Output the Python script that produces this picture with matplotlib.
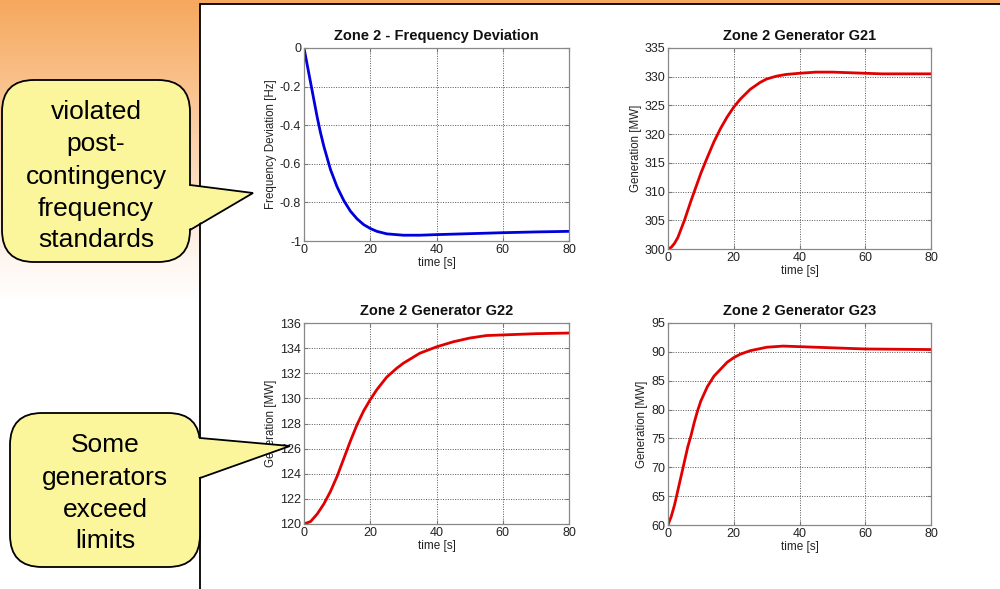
import matplotlib
matplotlib.use('Agg')
import matplotlib.pyplot as plt
import matplotlib.patches as patches
import numpy as np

plt.rcParams['font.family'] = ['Liberation Sans', 'DejaVu Sans']

# Zone 2 frequency deviation [Hz]
t_freq = [0, 1, 2, 3, 4, 5, 6, 7, 8, 10, 12, 14, 16, 18, 20, 22, 25, 30, 35, 40, 50, 60, 70, 80]
freq_dev = [0, -0.09, -0.18, -0.27, -0.36, -0.44, -0.51, -0.57, -0.63, -0.72, -0.79, -0.845,
            -0.885, -0.915, -0.935, -0.95, -0.963, -0.97, -0.97, -0.967, -0.962, -0.957, -0.953, -0.95]

# Generator G21 [MW]
t_g21 = [0, 1, 2, 3, 4, 5, 6, 7, 8, 10, 12, 14, 16, 18, 20, 22, 25, 28, 30, 33, 36, 40, 45, 50,
         55, 60, 65, 70, 80]
g21 = [300, 300.3, 301, 302, 303.5, 305, 306.7, 308.4, 310, 313.2, 316, 318.7, 321, 323, 324.7,
       326.1, 327.8, 329, 329.6, 330.1, 330.4, 330.6, 330.8, 330.8, 330.7, 330.6, 330.5, 330.5, 330.5]

# Generator G22 [MW]
t_g22 = [0, 2, 4, 6, 8, 10, 12, 14, 16, 18, 20, 22, 25, 28, 30, 35, 40, 45, 50, 55, 60, 70, 80]
g22 = [120, 120.2, 120.8, 121.6, 122.6, 123.8, 125.2, 126.6, 127.9, 129.0, 129.9, 130.7, 131.7,
       132.4, 132.8, 133.6, 134.1, 134.5, 134.8, 135.0, 135.05, 135.15, 135.2]

# Generator G23 [MW]
t_g23 = [0, 1, 2, 3, 4, 5, 6, 7, 8, 9, 10, 12, 14, 16, 18, 20, 22, 25, 30, 35, 40, 50, 60, 70, 80]
g23 = [60, 61.5, 63.5, 66, 68.5, 71, 73.5, 75.5, 77.8, 79.8, 81.5, 84, 85.8, 87, 88.2, 89, 89.6,
       90.2, 90.8, 91, 90.9, 90.7, 90.5, 90.45, 90.4]

callout_top = ['violated', 'post-', 'contingency', 'frequency', 'standards']
callout_bottom = ['Some', 'generators', 'exceed', 'limits']

W, H = 1000, 589
fig = plt.figure(figsize=(10, 5.89), dpi=100)

# background: orange slide gradient + white panel
bg = fig.add_axes([0, 0, 1, 1], zorder=-2)
bg.set_xlim(0, W)
bg.set_ylim(H, 0)
bg.axis('off')
ys = np.arange(H)
stops_y = [0, 100, 200, 260, 300]
stops_c = np.array([[246, 168, 94], [250, 198, 148], [253, 226, 204], [254, 246, 240],
                    [255, 255, 255]]) / 255
grad = np.stack([np.interp(ys, stops_y, stops_c[:, k]) for k in range(3)], axis=1)
grad = grad[:, None, :] * np.ones((1, 10, 1))
bg.imshow(grad, extent=[0, W, H, 0], aspect='auto')
bg.add_patch(patches.Rectangle((200, 4), 820, 600, facecolor='white', edgecolor='black', lw=1.3))


def style_ax(ax, xlim, ylim, yticks, ylabel, title):
    ax.set_xlim(*xlim)
    ax.set_ylim(*ylim)
    ax.set_xticks([0, 20, 40, 60, 80])
    ax.set_yticks(yticks)
    ax.grid(True, linestyle=(0, (1, 1.5)), color='#555555', lw=0.7)
    ax.tick_params(direction='in', length=3, top=True, right=True, labelsize=9,
                   colors='#777777', labelcolor='#222222', pad=2)
    for s in ax.spines.values():
        s.set_color('#888888')
        s.set_linewidth(0.9)
    ax.set_xlabel('time [s]', fontsize=8.5, color='#222222', labelpad=1)
    ax.set_ylabel(ylabel, fontsize=8.3, color='#222222', labelpad=2)
    ax.set_title(title, fontsize=10.5, fontweight='bold', color='#111111', pad=6)


ax1 = fig.add_axes([0.304, (H - 241) / H, 0.265, 193 / H])
ax1.plot(t_freq, freq_dev, color='#0000dd', lw=2.0)
style_ax(ax1, (0, 80), (-1, 0), [-1, -0.8, -0.6, -0.4, -0.2, 0],
         'Frequency Deviation [Hz]', 'Zone 2 - Frequency Deviation')
ax1.set_yticklabels(['-1', '-0.8', '-0.6', '-0.4', '-0.2', '0'])

ax2 = fig.add_axes([0.668, (H - 249) / H, 0.263, 201 / H])
ax2.plot(t_g21, g21, color='#e00000', lw=2.0)
style_ax(ax2, (0, 80), (300, 335), list(range(300, 336, 5)),
         'Generation [MW]', 'Zone 2 Generator G21')

ax3 = fig.add_axes([0.304, (H - 524) / H, 0.265, 201 / H])
ax3.plot(t_g22, g22, color='#e00000', lw=2.0)
style_ax(ax3, (0, 80), (120, 136), list(range(120, 137, 2)),
         'Generation [MW]', 'Zone 2 Generator G22')

ax4 = fig.add_axes([0.668, (H - 525) / H, 0.263, 202 / H])
ax4.plot(t_g23, g23, color='#e00000', lw=2.0)
style_ax(ax4, (0, 80), (60, 95), list(range(60, 96, 5)),
         'Generation [MW]', 'Zone 2 Generator G23')

# overlay with the callouts
ov = fig.add_axes([0, 0, 1, 1], zorder=10)
ov.set_xlim(0, W)
ov.set_ylim(H, 0)
ov.axis('off')
ov.patch.set_alpha(0)

fill = '#fbf69c'


def callout(x0, y0, x1, y1, base1, base2, tip, lines, cx, ys):
    box = patches.FancyBboxPatch((x0 + 30, y0 + 30), (x1 - x0) - 60, (y1 - y0) - 60,
                                 boxstyle='round,pad=30,rounding_size=32',
                                 facecolor=fill, edgecolor='black', lw=1.3)
    ov.add_patch(box)
    ov.add_patch(patches.Polygon([(x1 - 3, base1), tip, (x1 - 3, base2)],
                                 closed=True, facecolor=fill, edgecolor='none'))
    ov.plot([x1, tip[0], x1], [base1, tip[1], base2], color='black', lw=1.3,
            solid_joinstyle='miter')
    for txt, yy in zip(lines, ys):
        ov.text(cx, yy, txt, ha='center', va='center', fontsize=19, color='black')


callout(2, 80, 190, 262, 185, 230, (253, 193), callout_top, 96,
        [112, 144, 177, 209, 240])
callout(10, 413, 200, 567, 438, 478, (290, 446), callout_bottom, 105,
        [445, 478, 510, 541])

fig.savefig('out.png', dpi=100)
